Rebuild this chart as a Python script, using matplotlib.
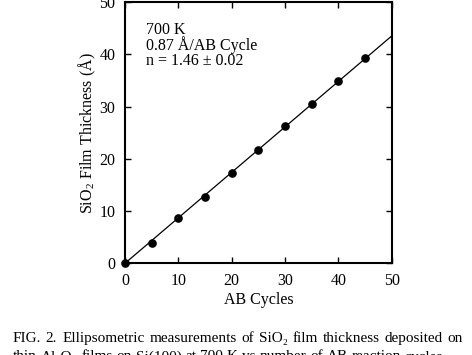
import matplotlib
matplotlib.use("Agg")
import matplotlib.pyplot as plt

plt.rcParams['font.family'] = ['Liberation Serif', 'DejaVu Serif']
plt.rcParams['mathtext.fontset'] = 'custom'
plt.rcParams['mathtext.rm'] = 'Liberation Serif'

cycles = [0, 5, 10, 15, 20, 25, 30, 35, 40, 45]
thickness = [0, 3.9, 8.6, 12.6, 17.3, 21.6, 26.2, 30.5, 34.9, 39.2]
fit_x = [0, 50]
fit_y = [0, 43.5]
ticks = [0, 10, 20, 30, 40, 50]
annot = ["700 K", "0.87 Å/AB Cycle", "n = 1.46 ± 0.02"]
caption1 = "FIG. 2. Ellipsometric measurements of SiO₂ film thickness deposited on"
caption2 = "thin Al₂O₃ films on Si(100) at 700 K vs number of AB reaction cycles."

W, H = 472, 355
fig = plt.figure(figsize=(W / 100, H / 100), dpi=100)
ax = fig.add_axes([125 / W, 1 - 263.3 / H, (391.7 - 125) / W, (263.3 - 2) / H])

ax.plot(fit_x, fit_y, color='black', lw=0.9, clip_on=True)
ax.plot(cycles, thickness, 'o', color='black', ms=5.2, clip_on=False, zorder=3)

ax.set_xlim(0, 50)
ax.set_ylim(0, 50)
ax.set_xticks(ticks)
ax.set_yticks(ticks)
ax.tick_params(direction='in', length=4, width=1, top=True, right=True,
               labelsize=11.5, pad=7)
for s in ax.spines.values():
    s.set_linewidth(1.5)

ax.set_xlabel("AB Cycles", fontsize=11.5, labelpad=2)
ax.set_ylabel("SiO$_2$ Film Thickness (Å)", fontsize=11.5, labelpad=1)

for i, t in enumerate(annot):
    fig.text(145.5 / W, 1 - (34.3 + 15.5 * i) / H, t, fontsize=11.5,
             ha='left', va='baseline')

# justified caption, first line spans x=12.7..462.7 px
renderer = fig.canvas.get_renderer()
def place_words(line, y_px, x0, x1, justify):
    words = line.split(" ")
    texts = [fig.text(0, 0, w, fontsize=11, ha='left', va='baseline') for w in words]
    widths = [t.get_window_extent(renderer).width for t in texts]
    a = fig.text(0, 0, "a b", fontsize=11)
    b = fig.text(0, 0, "ab", fontsize=11)
    space = a.get_window_extent(renderer).width - b.get_window_extent(renderer).width
    a.remove()
    b.remove()
    if justify:
        gap = (x1 - x0 - sum(widths)) / (len(words) - 1)
    else:
        gap = space
    x = x0
    for t, w in zip(texts, widths):
        t.set_position((x / W, 1 - y_px / H))
        x += w + gap

place_words(caption1, 341.7, 12.7, 462.7, True)
place_words(caption2, 360.5, 12.7, 462.7, False)

fig.savefig("out.png", dpi=100)
